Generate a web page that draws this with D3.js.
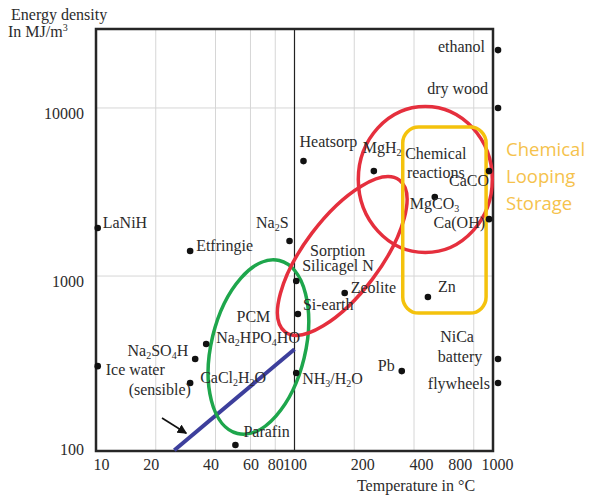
<!DOCTYPE html>
<html>
<head>
<meta charset="utf-8">
<script src="https://cdn.jsdelivr.net/npm/d3@7"></script>
<style>
  body { margin: 0; background: #fff; }
  svg { display: block; }
</style>
</head>
<body>
<svg id="chart" width="589" height="495"></svg>
<script>
// ---- data ----
const xTicks = [10, 20, 40, 60, 80, 100, 200, 400, 800, 1000];
const yTicks = [100, 1000, 10000];
const xGrid = [20, 40, 60, 80, 200, 400, 800];
const yGrid = [1000, 10000];

// storage media: temperature (°C) and energy density (MJ/m³)
const media = ["ethanol", "dryWood", "heatsorp", "mgh2", "caco3", "mgco3", "caoh2", "na2s",
  "silicagel", "zeolite", "zn", "siEarth", "laNiH", "etfringie", "na2hpo4", "na2so4",
  "iceWater", "cacl2", "nh3", "parafin", "pb", "nica", "flywheels"];
const temperatures = [1060, 1060, 111, 251, 955, 509, 955, 94.4,
  102, 179, 470, 104, 10.2, 29.8, 35.9, 31.6,
  10.2, 29.8, 102, 50.4, 347, 1060, 1060];
const densities = [22100, 10000, 4830, 4210, 4210, 2950, 2180, 1616,
  934, 792, 750, 594, 1930, 1409, 394, 321,
  291, 231, 265, 98.7, 272, 321, 231];
// "_" marks a subscript, "^" a superscript
const mediaLabels = [["ethanol"], ["dry wood"], ["Heatsorp"], ["MgH_2"], ["CaCO"], ["MgCO_3"], ["Ca(OH)"], ["Na_2S"],
  ["Silicagel N"], ["Zeolite"], ["Zn"], ["Si-earth"], ["LaNiH"], ["Etfringie"], ["Na_2HPO_4HO"], ["Na_2SO_4H"],
  ["Ice water", "(sensible)"], ["CaCl_2H_2O"], ["NH_3/H_2O"], ["Parafin"], ["Pb"], ["NiCa", "battery"], ["flywheels"]];

// sensible heat line (water) and its arrow
const sensibleTemps = [24.8, 100];
const sensibleDensities = [92, 367];
const arrowTemps = [21.5, 28.5];
const arrowDensities = [143, 116];

// ellipse regions: centre in data units
const regionNames = ["pcm", "sorption", "chemical"];
const regionTemps = [65.8, 174, 456];
const regionDensities = [378, 1316, 3752];
const regionColors = ["#1ea64c", "#e52f3d", "#e52f3d"];

// chemical looping box (temperature and density bounds)
const loopTemps = [351, 923];
const loopDensities = [602, 7703];

// free text inside the plot
const noteTexts = ["PCM", "Sorption", "Chemical", "reactions"];
const noteTemps = [62.1, 165, 515, 515];
const noteDensities = [578, 1425, 5395, 4157];

const loopLines = ["Chemical", "Looping", "Storage"];

// ---- layout ----
const serif = "'Liberation Serif', 'Times New Roman', serif";
const ink = "#2b2b2b";

const x = d3.scaleLog().domain([10, 1000]).range([96, 493]);
const y = d3.scaleLog().domain([91, 29500]).range([451, 29]);

// label offsets from each dot: [dx, dy, anchor] per line
const labelPos = {
  ethanol: [[-13, 2, "end"]],
  dryWood: [[-10, -14, "end"]],
  heatsorp: [[-4, -14, "start"]],
  mgh2: [[-11, -18, "start"]],
  caco3: [[0, 15, "end"]],
  mgco3: [[-25, 12, "start"]],
  caoh2: [[-4, 9, "end"]],
  na2s: [[-1, -13, "end"]],
  silicagel: [[6, -10, "start"]],
  zeolite: [[6, 0, "start"]],
  zn: [[10, -5, "start"]],
  siEarth: [[5, -4, "start"]],
  laNiH: [[5, 0, "start"]],
  etfringie: [[6, 0, "start"]],
  na2hpo4: [[10, -1, "start"]],
  na2so4: [[-7, -3, "end"]],
  iceWater: [[8, 9, "start"], [31, 29, "start"]],
  cacl2: [[10, 0, "start"]],
  nh3: [[6, 11, "start"]],
  parafin: [[8, -8, "start"]],
  pb: [[-7, 0, "end"]],
  nica: [[-41, -17, "middle"], [-38, 3, "middle"]],
  flywheels: [[-8, 6, "end"]]
};
// ellipse radii (px) and tilt (deg)
const regionShape = {
  pcm: [47, 89, 13.6],
  sorption: [95, 38, -53],
  chemical: [67, 73, 0]
};

const svg = d3.select("#chart");

// write text with _sub and ^sup markers
function richText(sel, str) {
  const parts = str.split(/([_^].)/).filter(p => p);
  let shift = 0;
  parts.forEach(p => {
    let target = 0, txt = p, size = null;
    if (p[0] === "_") { target = 3; txt = p[1]; size = 10; }
    else if (p[0] === "^") { target = -6; txt = p[1]; size = 10; }
    const t = sel.append("tspan").attr("dy", target - shift).text(txt);
    if (size) t.attr("font-size", size);
    shift = target;
  });
}

// grid
const grid = svg.append("g");
grid.selectAll("line.v")
  .data(xGrid)
  .enter()
  .append("line")
  .attr("x1", d => x(d)).attr("x2", d => x(d))
  .attr("y1", y.range()[1]).attr("y2", y.range()[0])
  .attr("stroke", "#d6d6d6");
grid.selectAll("line.h")
  .data(yGrid)
  .enter()
  .append("line")
  .attr("x1", x.range()[0]).attr("x2", x.range()[1])
  .attr("y1", d => y(d)).attr("y2", d => y(d))
  .attr("stroke", "#d6d6d6");
grid.append("line")
  .attr("x1", x(100)).attr("x2", x(100))
  .attr("y1", y.range()[1]).attr("y2", y.range()[0])
  .attr("stroke", "#222")
  .attr("stroke-width", 1.2);

// axes
const xLabelNudge = { 10: 5, 20: -5, 40: -5, 200: 8, 400: 7, 800: -14, 1000: 4 };
const xAxis = svg.append("g")
  .attr("transform", `translate(0,${y.range()[0]})`)
  .call(d3.axisBottom(x).tickValues(xTicks).tickFormat(d3.format("d")).tickSize(0).tickPadding(8));
xAxis.select(".domain").remove();
xAxis.selectAll("text")
  .attr("font-family", serif).attr("font-size", 16).attr("fill", ink)
  .attr("dx", d => xLabelNudge[d] || 0);

const yAxis = svg.append("g")
  .attr("transform", `translate(${x.range()[0]},0)`)
  .call(d3.axisLeft(y).tickValues(yTicks).tickFormat(d3.format("d")).tickSize(0).tickPadding(12));
yAxis.select(".domain").remove();
yAxis.selectAll("text")
  .attr("font-family", serif).attr("font-size", 16).attr("fill", ink)
  .attr("transform", "translate(0,5)");

// frame
svg.append("rect")
  .attr("x", x.range()[0]).attr("y", y.range()[1])
  .attr("width", x.range()[1] - x.range()[0])
  .attr("height", y.range()[0] - y.range()[1])
  .attr("fill", "none")
  .attr("stroke", "#262626")
  .attr("stroke-width", 2.5);

// axis titles
const yTitle = svg.append("g").attr("font-family", serif).attr("font-size", 16).attr("fill", ink);
yTitle.append("text").attr("x", 11).attr("y", 20).text("Energy density");
richText(yTitle.append("text").attr("x", 8).attr("y", 37), "In MJ/m^3");
svg.append("text")
  .attr("x", 416).attr("y", 491)
  .attr("text-anchor", "middle")
  .attr("font-family", serif).attr("font-size", 16).attr("fill", ink)
  .text("Temperature in °C");

// sensible heat line + arrow
svg.append("defs").append("marker")
  .attr("id", "head")
  .attr("viewBox", "0 0 10 10")
  .attr("refX", 9).attr("refY", 5)
  .attr("markerWidth", 6).attr("markerHeight", 6)
  .attr("orient", "auto")
  .append("path").attr("d", "M0,0L10,5L0,10Z").attr("fill", "#111");

svg.append("line")
  .attr("x1", x(sensibleTemps[0])).attr("y1", y(sensibleDensities[0]))
  .attr("x2", x(sensibleTemps[1])).attr("y2", y(sensibleDensities[1]))
  .attr("stroke", "#3d3f9c")
  .attr("stroke-width", 4);
svg.append("line")
  .attr("x1", x(arrowTemps[0])).attr("y1", y(arrowDensities[0]))
  .attr("x2", x(arrowTemps[1])).attr("y2", y(arrowDensities[1]))
  .attr("stroke", "#111")
  .attr("stroke-width", 1.6)
  .attr("marker-end", "url(#head)");

// regions
svg.selectAll("ellipse")
  .data(regionNames)
  .enter()
  .append("ellipse")
  .attr("transform", (d, i) => `translate(${x(regionTemps[i])},${y(regionDensities[i])}) rotate(${regionShape[d][2]})`)
  .attr("rx", d => regionShape[d][0])
  .attr("ry", d => regionShape[d][1])
  .attr("fill", "none")
  .attr("stroke", (d, i) => regionColors[i])
  .attr("stroke-width", 3.5);

svg.append("rect")
  .attr("x", x(loopTemps[0])).attr("y", y(loopDensities[1]))
  .attr("width", x(loopTemps[1]) - x(loopTemps[0]))
  .attr("height", y(loopDensities[0]) - y(loopDensities[1]))
  .attr("rx", 16)
  .attr("fill", "none")
  .attr("stroke", "#f4c20d")
  .attr("stroke-width", 3.5);

// points
svg.selectAll("circle.pt")
  .data(media)
  .enter()
  .append("circle")
  .attr("cx", (d, i) => x(temperatures[i]))
  .attr("cy", (d, i) => y(densities[i]))
  .attr("r", 3.3)
  .attr("fill", "#111");

// labels
const labels = svg.append("g").attr("font-family", serif).attr("font-size", 16).attr("fill", ink);
media.forEach((m, i) => {
  mediaLabels[i].forEach((line, j) => {
    const [dx, dy, anchor] = labelPos[m][j];
    const t = labels.append("text")
      .attr("x", x(temperatures[i]) + dx)
      .attr("y", y(densities[i]) + dy)
      .attr("dy", "0.35em")
      .attr("text-anchor", anchor);
    richText(t, line);
  });
});

noteTexts.forEach((n, i) => {
  labels.append("text")
    .attr("x", x(noteTemps[i]))
    .attr("y", y(noteDensities[i]))
    .attr("dy", "0.35em")
    .attr("text-anchor", "middle")
    .text(n);
});

// chemical looping note
svg.append("g")
  .attr("font-family", "'Open Sans', sans-serif")
  .attr("font-size", 18.5)
  .attr("fill", "#f5c24c")
  .selectAll("text")
  .data(loopLines)
  .enter()
  .append("text")
  .attr("x", x(loopTemps[1]) + 20)
  .attr("y", (d, i) => y(loopDensities[1]) + 23 + i * 27)
  .attr("dy", "0.35em")
  .text(d => d);
</script>
</body>
</html>
